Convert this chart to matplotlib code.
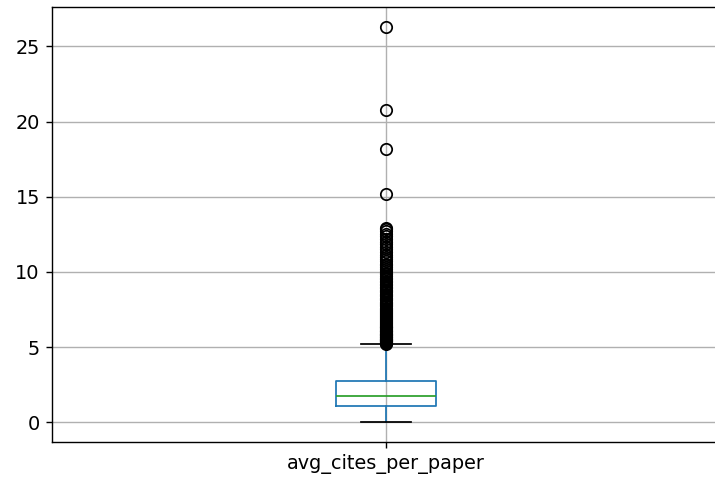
import matplotlib
matplotlib.use("Agg")
import matplotlib.pyplot as plt

# box statistics
label = "avg_cites_per_paper"
q1, med, q3 = 1.08, 1.75, 2.74
whislo, whishi = 0.0, 5.22
fliers = [5.23, 5.26, 5.3, 5.33, 5.37, 5.4, 5.44, 5.48, 5.52, 5.55, 5.6, 5.64,
          5.68, 5.72, 5.77, 5.81, 5.85, 5.9, 5.95, 6.0, 6.04, 6.1, 6.15, 6.2,
          6.25, 6.3, 6.36, 6.42, 6.48, 6.53, 6.6, 6.66, 6.72, 6.78, 6.85, 6.9,
          6.97, 7.04, 7.1, 7.17, 7.25, 7.32, 7.4, 7.47, 7.55, 7.62, 7.7, 7.78,
          7.86, 7.94, 8.02, 8.1, 8.2, 8.28, 8.37, 8.45, 8.55, 8.64, 8.73, 8.82,
          8.92, 9.0, 9.1, 9.2, 9.3, 9.4, 9.5, 9.6, 9.72, 9.83, 9.95, 10.05,
          10.2, 10.3, 10.45, 10.55, 10.7, 10.85, 11.0, 11.15, 11.3, 11.5,
          11.65, 11.85, 12.0, 12.2, 12.4, 12.55, 12.7, 12.85, 12.95,
          15.15, 18.2, 20.75, 26.3]

stats = [dict(label=label, q1=q1, med=med, q3=q3,
              whislo=whislo, whishi=whishi, fliers=fliers)]

plt.rcParams["font.size"] = 11

fig = plt.figure(figsize=(715 / 126, 483 / 126), dpi=126)
ax = fig.add_axes([52 / 715, 41 / 483, 668 / 715, 435 / 483])

ax.bxp(stats, widths=0.15,
       boxprops=dict(color="C0"),
       whiskerprops=dict(color="C0"),
       medianprops=dict(color="C2"),
       capprops=dict(color="black"),
       flierprops=dict(marker="o", markersize=6.5, markeredgecolor="black",
                       markerfacecolor="none"))
ax.grid(True, color="#b0b0b0", linewidth=0.8)
ax.set_axisbelow(True)

fig.savefig("out.png", dpi=126)
